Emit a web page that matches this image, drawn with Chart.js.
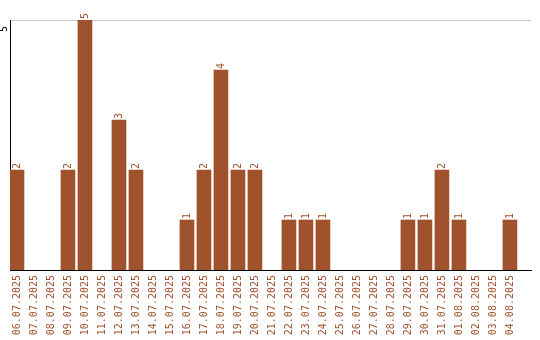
<!DOCTYPE html>
<html>
<head>
<meta charset="utf-8">
<script src="https://cdn.jsdelivr.net/npm/chart.js@4.4.1/dist/chart.umd.min.js"></script>
<style>
  html, body { margin: 0; padding: 0; background: #fff; }
</style>
</head>
<body>
<canvas id="myChart" width="540" height="340"></canvas>
<script>
const days = [
    "06.07.2025", "07.07.2025", "08.07.2025", "09.07.2025", "10.07.2025",
    "11.07.2025", "12.07.2025", "13.07.2025", "14.07.2025", "15.07.2025",
    "16.07.2025", "17.07.2025", "18.07.2025", "19.07.2025", "20.07.2025",
    "21.07.2025", "22.07.2025", "23.07.2025", "24.07.2025", "25.07.2025",
    "26.07.2025", "27.07.2025", "28.07.2025", "29.07.2025", "30.07.2025",
    "31.07.2025", "01.08.2025", "02.08.2025", "03.08.2025", "04.08.2025"
];
const counts = [2, 0, 0, 2, 5, 0, 3, 2, 0, 0, 1, 2, 4, 2, 2, 0, 1, 1, 1, 0, 0, 0, 0, 1, 1, 2, 1, 0, 0, 1];
const yTicks = [5];

const brown = "#A0522D";
const mono = "'DejaVu Sans Mono', monospace";

// value labels on top of the bars (rotated like the axis labels)
const barValues = {
    id: "barValues",
    afterDatasetsDraw(chart) {
        const ctx = chart.ctx;
        const meta = chart.getDatasetMeta(0);
        ctx.save();
        ctx.fillStyle = brown;
        ctx.font = "10px " + mono;
        ctx.textAlign = "left";
        ctx.textBaseline = "middle";
        meta.data.forEach((bar, i) => {
            if (!counts[i]) return;
            ctx.save();
            ctx.translate(bar.x, bar.y - 1);
            ctx.rotate(-Math.PI / 2);
            ctx.fillText(String(counts[i]), 0, 0);
            ctx.restore();
        });
        ctx.restore();
    }
};

new Chart(document.getElementById("myChart").getContext("2d"), {
    type: "bar",
    data: {
        datasets: [{
            // empty days get no bar at all
            data: counts.map((v, i) => ({ x: i, y: v || null })),
            backgroundColor: brown,
            barThickness: 14
        }]
    },
    options: {
        responsive: false,
        animation: false,
        layout: { padding: { top: 20, right: 9, left: 0, bottom: 0 } },
        plugins: { legend: { display: false }, tooltip: { enabled: false } },
        scales: {
            x: {
                type: "linear",
                offset: false,
                min: -0.41,
                max: 30.24,
                afterBuildTicks: s => { s.ticks = days.map((d, i) => ({ value: i })); },
                afterFit: s => { s.height = 70; },
                grid: { display: false, drawTicks: false },
                border: { color: "#000", width: 1 },
                ticks: {
                    autoSkip: false,
                    minRotation: 90,
                    maxRotation: 90,
                    padding: 5,
                    color: brown,
                    font: { family: mono, size: 10 },
                    callback: v => days[v]
                }
            },
            y: {
                min: 0,
                max: 5,
                afterBuildTicks: s => { s.ticks = yTicks.map(v => ({ value: v })); },
                afterFit: s => { s.width = 10; },
                grid: { color: "#c8c8c8", drawTicks: false },
                border: { color: "#000", width: 1 },
                ticks: {
                    minRotation: 90,
                    maxRotation: 90,
                    padding: 6,
                    labelOffset: 6,
                    color: "#000",
                    font: { family: mono, size: 10 }
                }
            }
        }
    },
    plugins: [barValues]
});
</script>
</body>
</html>
